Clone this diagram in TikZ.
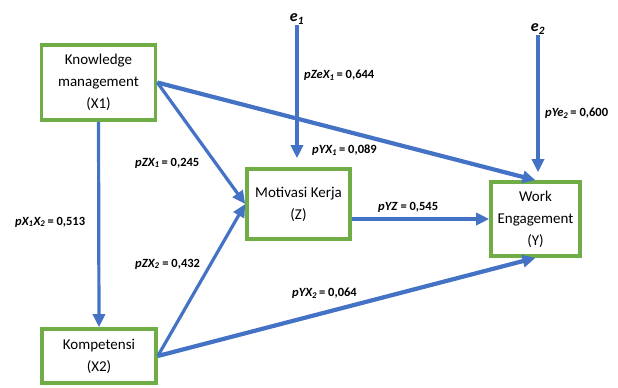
\documentclass[tikz,border=0pt]{standalone}
\usepackage{fontspec}
\setmainfont{Carlito}
\usetikzlibrary{arrows.meta,calc}
\definecolor{boxgreen}{RGB}{112,173,71}
\definecolor{arrowblue}{RGB}{68,114,196}

\begin{document}
\begin{tikzpicture}[x=1bp, y=-1bp,
  box/.style={draw=boxgreen, line width=3.6bp, fill=white, align=center, inner sep=0pt, font=\fontsize{15bp}{22bp}\selectfont},
  arr/.style={draw=arrowblue, line width=3.2bp, -{Triangle[length=13bp,width=12bp]}},
  coef/.style={anchor=west, inner sep=0pt, font=\fontsize{12.5bp}{15bp}\selectfont\bfseries},
  err/.style={inner sep=1bp, font=\fontsize{16bp}{18bp}\selectfont\bfseries\itshape}]
\useasboundingbox (0,0) rectangle (618,387);
% variables
\node[box, minimum width=114bp, minimum height=75bp] (X1) at (98.5,82.5) {Knowledge\\management\\(X1)};
\node[box, minimum width=114bp, minimum height=54bp] (X2) at (99,356) {Kompetensi\\(X2)};
\node[box, minimum width=103bp, minimum height=70bp] (Z) at (298.5,204) {Motivasi Kerja\\(Z)};
\node[box, minimum width=89bp, minimum height=74bp] (Y) at (535.5,219) {Work\\Engagement\\(Y)};
\node[err] (e1) at (297,19) {e\textsubscript{1}};
\node[err] (e2) at (538,29) {e\textsubscript{2}};
% paths
\path[arr] (e1) -- ($(e1 |- Z.north)+(0,-9)$);
\path[arr] (e2) -- ($(e2 |- Y.north)+(0,-8)$);
\path[arr] (X1.south) -- (X2.north);
\path[arr] (X1.east) -- (Z.west);
\path[arr] (X2.east) -- (Z.west);
\path[arr, line width=4.2bp] (X1.east) -- (Y.north);
\path[arr, line width=4.2bp] (X2.east) -- (Y.south);
\path[arr] (Z.east |- Y.west) -- (Y.west);
% coefficients
\node[coef] (cZeX1) at (304,75) {\textit{pZeX\textsubscript{1}}\,= 0,644};
\node[coef] (cYX1) at (312,150) {\textit{pYX\textsubscript{1}}\,= 0,089};
\node[coef] (cZX1) at (135,163) {\textit{pZX\textsubscript{1}}\,= 0,245};
\node[coef] (cX1X2) at (15,222) {\textit{pX\textsubscript{1}X\textsubscript{2}}\,= 0,513};
\node[coef] (cZX2) at (135,264) {\textit{pZX\textsubscript{2}} = 0,432};
\node[coef] (cYX2) at (292,293) {\textit{pYX\textsubscript{2}}\,= 0,064};
\node[coef] (cYZ) at (378,207) {\textit{pYZ} = 0,545};
\node[coef] (cYe2) at (545,113) {\textit{pYe\textsubscript{2}}\,= 0,600};
\end{tikzpicture}
\end{document}
